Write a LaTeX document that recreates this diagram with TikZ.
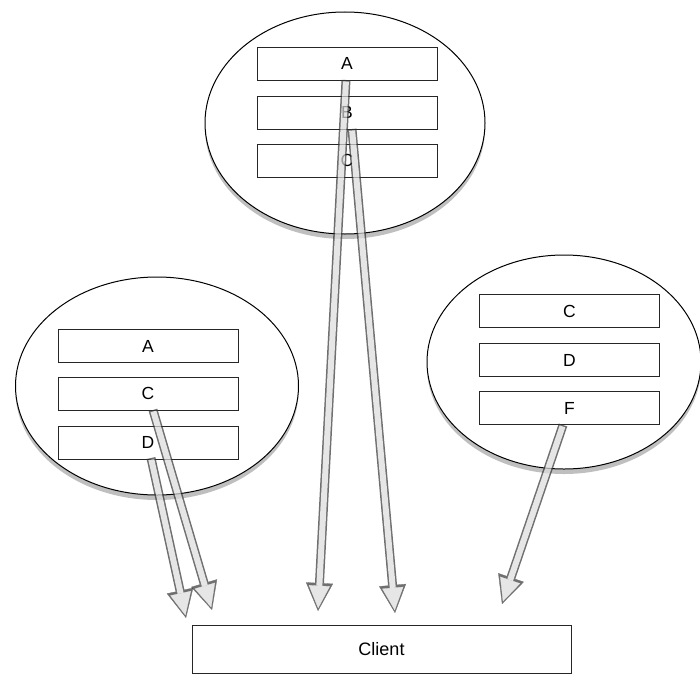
\documentclass[tikz,border=0pt]{standalone}
\usepackage{fontspec}
\setmainfont{Liberation Sans}
\usetikzlibrary{shadows,arrows.meta,shapes.geometric}
\tikzset{
  blob/.style={ellipse, draw=black, line width=1pt, fill=white, inner sep=0pt,
    drop shadow={opacity=0.5, shadow xshift=0pt, shadow yshift=-5pt}},
  item/.style={draw=black!85, line width=0.9pt, fill=white, minimum width=180pt,
    minimum height=33pt, inner sep=0pt, font=\fontsize{17.5}{20}\selectfont},
  clientbox/.style={draw=black!85, line width=1pt, fill=white, minimum width=379pt,
    minimum height=48pt, inner sep=0pt, font=\fontsize{18}{20}\selectfont},
  fatouter/.style={line width=9pt, draw=black!80,
    -{Triangle[width=27pt,length=28pt,line width=0.3pt]}},
  fatinner/.style={line width=6pt, draw=black!14, shorten >=2.8pt, shorten <=1.5pt,
    -{Triangle[width=21pt,length=22.5pt,line width=0.3pt]}},
}
\newcommand{\fatarrow}[2]{%
  \begin{scope}[transparency group, opacity=0.7]
  \draw[fatouter] (#1) -- (#2);
  \draw[fatinner] (#1) -- (#2);
  \end{scope}}
\begin{document}
\begin{tikzpicture}[x=1pt,y=-1pt]
\useasboundingbox (0,0) rectangle (700,677);
% ellipses
\node[blob, minimum width=280pt, minimum height=222pt] (top) at (345,123) {};
\node[blob, minimum width=283pt, minimum height=218pt] (left) at (157,386) {};
\node[blob, minimum width=274pt, minimum height=214pt] (right) at (564,362) {};
% boxes
\node[item] (tA) at (347,63.5) {A};
\node[item] (tB) at (347,112.5) {B};
\node[item] (tC) at (347,160.5) {C};
\node[item] (lA) at (148,346) {A};
\node[item] (lC) at (148,393.5) {C};
\node[item] (lD) at (148,442.5) {D};
\node[item] (rC) at (569.5,311) {C};
\node[item] (rD) at (569.5,360) {D};
\node[item] (rF) at (569.5,408) {F};
\node[clientbox] (client) at (381.5,649) {Client};
% arrow ends
\coordinate (sA) at (346,80);
\coordinate (sB) at (352,129);
\coordinate (sC) at (153,410);
\coordinate (sD) at (151,458);
\coordinate (sF) at (563,425);
\coordinate (eA) at (318,611);
\coordinate (eB) at (395,613);
\coordinate (eC) at (212,610);
\coordinate (eD) at (186,618);
\coordinate (eF) at (502,604);
\fatarrow{sA}{eA}
\fatarrow{sB}{eB}
\fatarrow{sD}{eD}
\fatarrow{sC}{eC}
\fatarrow{sF}{eF}
\end{tikzpicture}
\end{document}
